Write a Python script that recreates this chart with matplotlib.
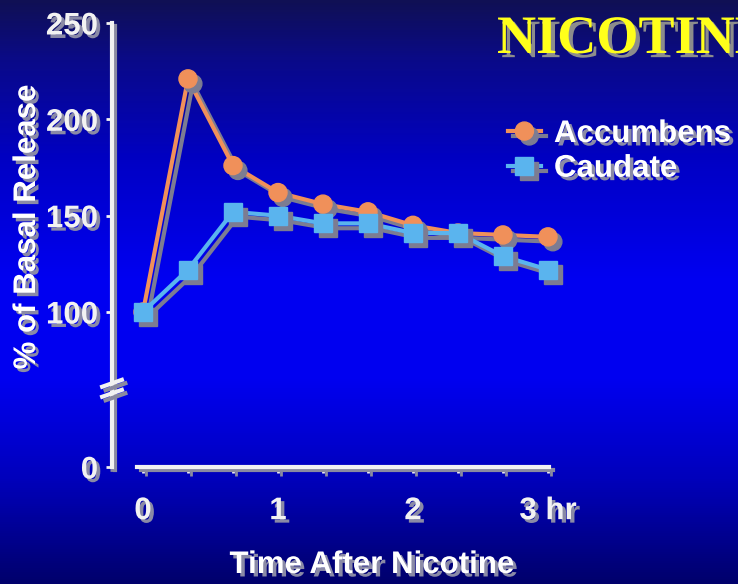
import numpy as np
import matplotlib
matplotlib.use('Agg')
import matplotlib.pyplot as plt
from matplotlib import patheffects as pe
from matplotlib.colors import LinearSegmentedColormap, to_rgba
import matplotlib.transforms as mtransforms

# ---------------- data ----------------
time_hr = [0, 1/3, 2/3, 1, 4/3, 5/3, 2, 7/3, 8/3, 3]
accumbens = [100, 221, 176, 162, 156, 152, 145, 141, 140, 139]
caudate = [100, 122, 152, 150, 146, 146, 141, 141, 129, 122]
series_names = ['Accumbens', 'Caudate']
x_tick_labels = ['0', '', '', '1', '', '', '2', '', '', '3 hr']
y_tick_values = [100, 150, 200, 250]
y_tick_labels = ['100', '150', '200', '250']
zero_label = '0'
title_text = 'NICOTINE'
x_label = 'Time After Nicotine'
y_label = '% of Basal Release'

Y_BOTTOM = 19.56   # broken axis: where the "0" is drawn
Y_TOP = 250

plt.rcParams['font.family'] = ['Liberation Sans', 'DejaVu Sans']
plt.rcParams['font.weight'] = 'bold'


class Shadow(pe.AbstractPathEffect):
    """Solid offset drop-shadow for lines, markers and text."""
    def __init__(self, offset=(3, -3), color='#80809a'):
        super().__init__(offset)
        self.color = to_rgba(color)

    def draw_path(self, renderer, gc, tpath, affine, rgbFace=None):
        gc0 = renderer.new_gc()
        gc0.copy_properties(gc)
        gc0.set_foreground(self.color)
        face = self.color if rgbFace is not None else None
        renderer.draw_path(gc0, tpath, affine + self._offset_transform(renderer), face)
        gc0.restore()


line_fx = [Shadow((3.5, -3.5), '#7c7c92'), pe.Normal()]
text_fx = [Shadow((2.5, -2.5), '#8a8aa6'), pe.Normal()]
axis_fx = [Shadow((2.5, -2.5), '#8a8aa0'), pe.Normal()]

fig = plt.figure(figsize=(7.38, 5.84), dpi=100)

# background gradient
bg = fig.add_axes([0, 0, 1, 1], zorder=-10)
grad = np.linspace(0, 1, 584).reshape(-1, 1)
cmap = LinearSegmentedColormap.from_list('bg', [
    (0.0, '#101054'), (0.1, '#0a0a88'), (0.28, '#0000c6'),
    (0.48, '#0000f2'), (0.65, '#0000f0'), (0.82, '#0000bc'), (1.0, '#00006c')])
bg.imshow(grad, aspect='auto', cmap=cmap, extent=[0, 1, 0, 1], origin='upper')
bg.axis('off')

# main axes
ax = fig.add_axes([112/738, 117/584, 448/738, 444/584])
ax.set_facecolor('none')
ax.set_xlim(-0.2296, 3.089)
ax.set_ylim(Y_BOTTOM, Y_TOP)

ax.plot(time_hr, accumbens, color='#f0905a', lw=3, marker='o', ms=13,
        mec='#f0905a', mfc='#f0905a', label=series_names[0], clip_on=False,
        path_effects=line_fx, zorder=3)
ax.plot(time_hr, caudate, color='#5ab4ee', lw=3, marker='s', ms=13,
        mec='#5ab4ee', mfc='#5ab4ee', label=series_names[1], clip_on=False,
        path_effects=line_fx, zorder=4)

for s in ['top', 'right']:
    ax.spines[s].set_visible(False)
ax.spines['left'].set_bounds(Y_BOTTOM, Y_TOP)
ax.spines['bottom'].set_bounds(-0.044, 3.01)
for s in ['left', 'bottom']:
    ax.spines[s].set_color('#f2f2f2')
    ax.spines[s].set_linewidth(3)
    ax.spines[s].set_path_effects(axis_fx)

ax.set_xticks(time_hr)
ax.set_xticklabels(x_tick_labels)
ax.set_yticks([Y_BOTTOM] + y_tick_values)
ax.set_yticklabels([zero_label] + y_tick_labels)
ax.tick_params(colors='#f2f2f2', width=2, length=4, labelsize=22.5)
ax.tick_params(axis='x', pad=17)
ax.tick_params(axis='y', pad=6)
for lbl in ax.get_xticklabels() + ax.get_yticklabels():
    lbl.set_path_effects(text_fx)
for tl in ax.xaxis.get_ticklines() + ax.yaxis.get_ticklines():
    tl.set_path_effects(axis_fx)

# axis break marks
trans = mtransforms.blended_transform_factory(ax.transAxes, ax.transData)
for yc in (63.0, 57.8):
    ax.plot([-0.022, 0.022], [yc - 1.8, yc + 1.8], transform=trans,
            color='#f2f2f2', lw=3, clip_on=False, path_effects=axis_fx, zorder=5)

leg = ax.legend(loc='upper left', bbox_to_anchor=(508/738, 1 - 119/584),
                bbox_transform=fig.transFigure, frameon=False, fontsize=22.5,
                handlelength=1.05, handletextpad=0.42, labelspacing=0.15,
                borderpad=0, borderaxespad=0, labelcolor='white')
for t in leg.get_texts():
    t.set_path_effects(text_fx)

fig.text(497/738, 1 - 53/584, title_text, color='#ffff1a', fontsize=39,
         fontweight='bold', family='Liberation Serif', va='baseline', ha='left',
         path_effects=[Shadow((3, -3), '#8c8c8c'), pe.Normal()])
fig.text(27/738, 1 - 227/584, y_label, rotation=90, ha='center', va='center',
         color='white', fontsize=22.5, fontweight='bold', path_effects=text_fx)
fig.text(372/738, 1 - 565/584, x_label, ha='center', va='center',
         color='white', fontsize=22.5, fontweight='bold', path_effects=text_fx)

fig.savefig('out.png', dpi=100)
